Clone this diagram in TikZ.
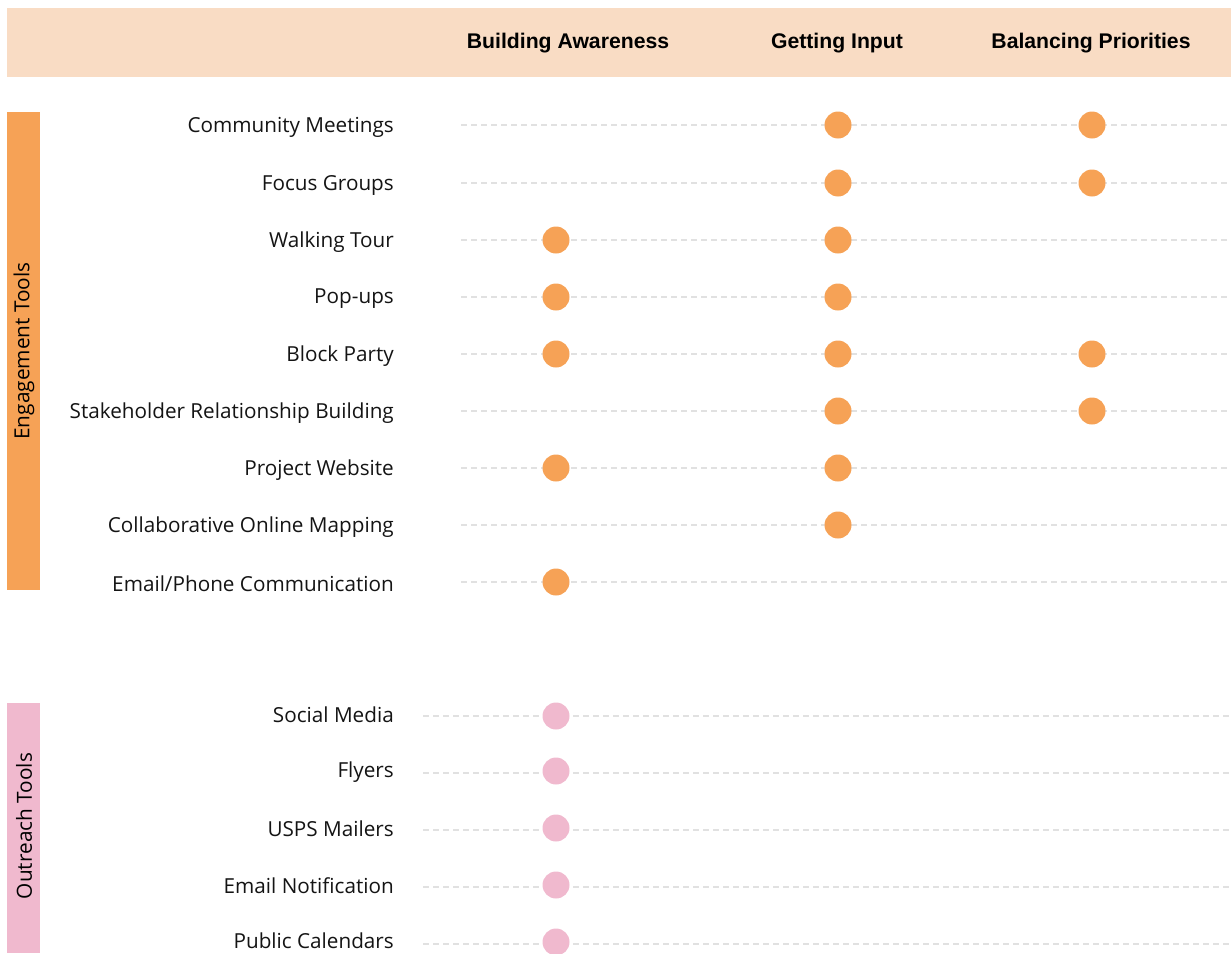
\documentclass[tikz,border=0pt]{standalone}
\usepackage{fontspec}
\setmainfont{Open Sans}
\newfontfamily\headfont{Liberation Sans}
\begin{document}
\begin{tikzpicture}[x=1pt,y=-1pt,
  orng/.style={fill={rgb,255:red,246;green,162;blue,86}, draw=none},
  pnk/.style={fill={rgb,255:red,240;green,185;blue,206}, draw=none},
  rowlbl/.style={anchor=east, font=\fontsize{20.7}{24}\selectfont, text={rgb,255:red,20;green,20;blue,20}, inner sep=0pt},
  colhead/.style={font=\headfont\bfseries\fontsize{21.2}{24}\selectfont, inner sep=0pt},
  guide/.style={draw={rgb,255:red,225;green,225;blue,225}, line width=1.3pt, dash pattern=on 6pt off 4pt},
  dotmark/.style={circle, minimum size=27pt, inner sep=0pt},
  sidelbl/.style={rotate=90, font=\fontsize{20.8}{24}\selectfont, inner sep=0pt}
]
\useasboundingbox (0,0) rectangle (1231,953);
\fill[fill={rgb,255:red,249;green,220;blue,196}] (7,8) rectangle (1231,77);
\node[colhead] (h1) at (568,43) {Building Awareness};
\node[colhead] (h2) at (837,43) {Getting Input};
\node[colhead] (h3) at (1091,43) {Balancing Priorities};
% side bars
\fill[orng] (7,112) rectangle (40,590);
\node[sidelbl] (eng) at (24,351) {Engagement Tools};
\fill[pnk] (7,703) rectangle (40,953);
\node[sidelbl] (out) at (24,826) {Outreach Tools};
% engagement rows
\foreach \i/\y/\t in {1/125/{Community Meetings},2/183/{Focus Groups},3/240/{Walking Tour},4/297/{Pop-ups},5/354/{Block Party},6/411/{Stakeholder Relationship Building},7/468/{Project Website},8/525/{Collaborative Online Mapping},9/582/{Email/Phone Communication}}{
  \node[rowlbl] (e\i) at (394,\y+2) {\t};
  \coordinate (es\i) at (461,\y);
  \coordinate (ee\i) at (1231,\y);
  \draw[guide] (es\i) -- (ee\i);
}
\foreach \i/\y/\t in {1/714/{Social Media},2/771/{Flyers},3/828/{USPS Mailers},4/885/{Email Notification},5/940/{Public Calendars}}{
  \node[rowlbl] (o\i) at (394,\y+1) {\t};
}
\foreach \i/\y in {1/716,2/773,3/830,4/887,5/944}{
  \coordinate (os\i) at (423,\y);
  \coordinate (oe\i) at (1231,\y);
  \draw[guide] (os\i) -- (oe\i);
}
% dots
\foreach \i/\y in {3/240,4/297,5/354,7/468,9/582}{ \node[dotmark,orng] (a\i) at (556,\y) {}; }
\foreach \i/\y in {1/125,2/183,3/240,4/297,5/354,6/411,7/468,8/525}{ \node[dotmark,orng] (g\i) at (838,\y) {}; }
\foreach \i/\y in {1/125,2/183,5/354,6/411}{ \node[dotmark,orng] (b\i) at (1092,\y) {}; }
\foreach \i/\y in {1/716,2/771,3/828,4/885,5/942}{ \node[dotmark,pnk] (p\i) at (556,\y) {}; }
\end{tikzpicture}
\end{document}
